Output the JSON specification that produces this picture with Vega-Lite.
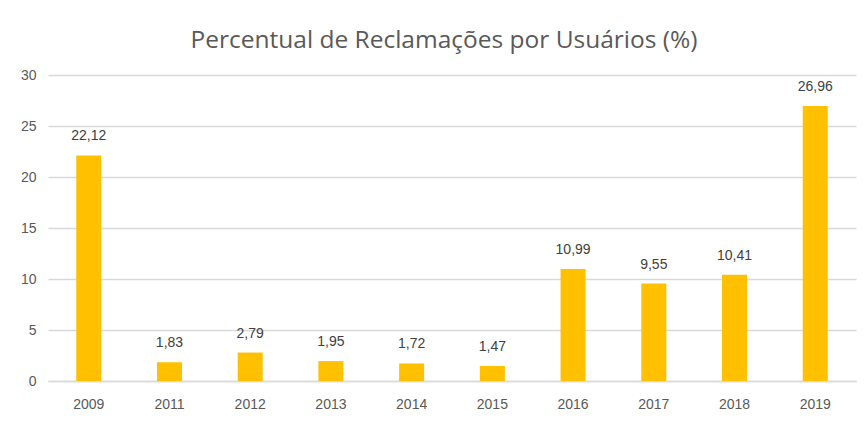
{
  "$schema": "https://vega.github.io/schema/vega-lite/v6.json",
  "autosize": "none",
  "width": 808,
  "height": 306,
  "padding": {"left": 48, "top": 75, "right": 9, "bottom": 44},
  "background": "white",
  "config": {
    "view": {"stroke": null},
    "locale": {"number": {"decimal": ",", "thousands": ".", "grouping": [3], "currency": ["", ""]}}
  },
  "title": {
    "text": "Percentual de Reclamações por Usuários (%)",
    "font": "Open Sans",
    "fontSize": 24.5,
    "fontWeight": "normal",
    "color": "#595959",
    "anchor": "middle",
    "offset": 15,
    "dx": -8
  },
  "data": {
    "values": [
      {"ano": "2009", "valor": 22.12},
      {"ano": "2011", "valor": 1.83},
      {"ano": "2012", "valor": 2.79},
      {"ano": "2013", "valor": 1.95},
      {"ano": "2014", "valor": 1.72},
      {"ano": "2015", "valor": 1.47},
      {"ano": "2016", "valor": 10.99},
      {"ano": "2017", "valor": 9.55},
      {"ano": "2018", "valor": 10.41},
      {"ano": "2019", "valor": 26.96}
    ]
  },
  "encoding": {
    "x": {
      "field": "ano",
      "type": "nominal",
      "sort": null,
      "scale": {"paddingInner": 0.69, "paddingOuter": 0.35},
      "axis": {
        "title": null,
        "labelAngle": 0,
        "labelFont": "Liberation Sans",
        "labelFontSize": 14,
        "labelColor": "#595959",
        "labelPadding": 16,
        "ticks": false,
        "domain": true,
        "domainColor": "#d9d9d9",
        "domainWidth": 1.5
      }
    },
    "y": {
      "field": "valor",
      "type": "quantitative",
      "scale": {"domain": [0, 30], "nice": false},
      "axis": {
        "title": null,
        "values": [0, 5, 10, 15, 20, 25, 30],
        "labelFont": "Liberation Sans",
        "labelFontSize": 14,
        "labelColor": "#595959",
        "labelPadding": 12,
        "ticks": false,
        "domain": false,
        "gridColor": "#d9d9d9",
        "gridWidth": 1.5
      }
    }
  },
  "layer": [
    {"mark": {"type": "bar", "color": "#FFC000"}},
    {
      "mark": {"type": "text", "baseline": "bottom", "dy": -12, "font": "Liberation Sans", "fontSize": 14, "color": "#404040"},
      "encoding": {"text": {"field": "valor", "type": "quantitative", "format": ".2f"}}
    }
  ]
}
